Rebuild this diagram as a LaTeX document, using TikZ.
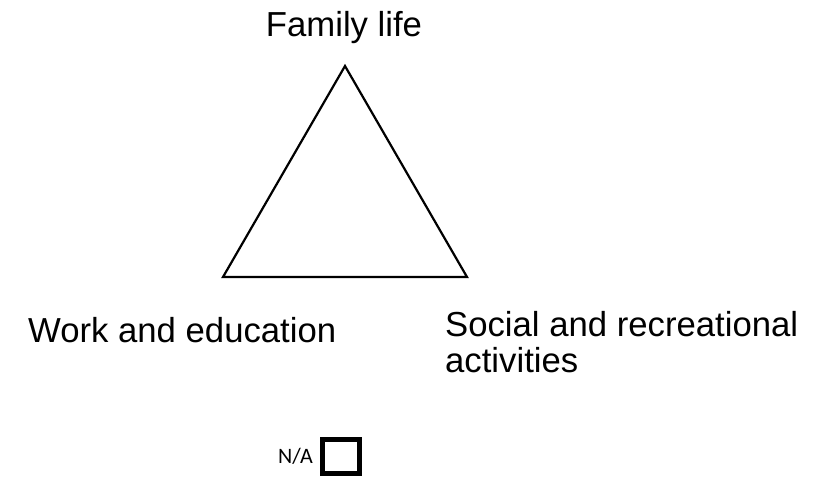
\documentclass[tikz,border=0pt]{standalone}
\usepackage{fontspec}
\setmainfont{Liberation Sans}
\newfontfamily\smallfont{Carlito}
\begin{document}
\begin{tikzpicture}[x=1pt,y=-1pt,
  lbl/.style={inner sep=0pt, font=\fontsize{34.7}{35}\selectfont},
  tri/.style={draw=black, line width=2.2pt, line join=miter},
  nabox/.style={draw=black, line width=5pt}]
\useasboundingbox (0,0) rectangle (822,478);
\coordinate (top) at (345,66);
\coordinate (bl) at (223,277);
\coordinate (br) at (467,277);
\draw[tri] (top) -- (bl) -- (br) -- cycle;
\node[lbl, anchor=base] (family) at (344,37) {Family life};
\node[lbl, anchor=base west] (work) at (28,342) {Work and education};
\node[lbl, anchor=base west] (social1) at (445,337) {Social and recreational};
\node[lbl, anchor=base west] (social2) at (445,372) {activities};
\node[inner sep=0pt, anchor=base west, font=\smallfont\fontsize{22}{24}\selectfont] (na) at (278,463) {N/A};
\draw[nabox] (322.5,439.8) rectangle (359.2,473.2);
\end{tikzpicture}
\end{document}
